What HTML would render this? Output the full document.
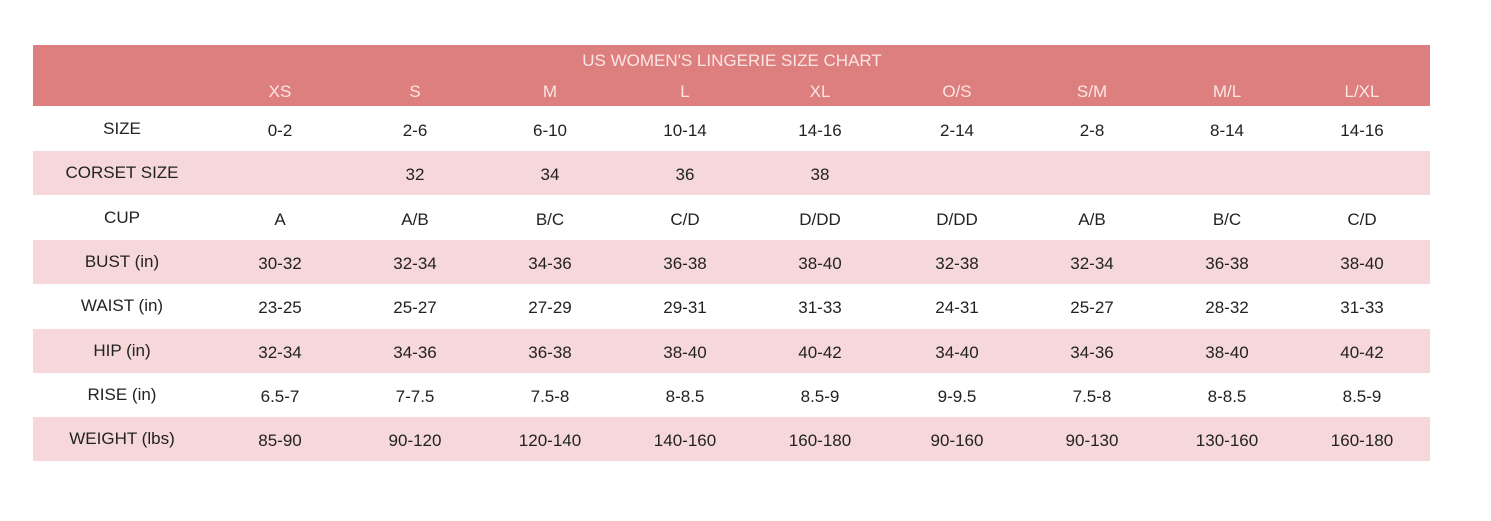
<!DOCTYPE html>
<html><head><meta charset="utf-8"><style>
body{margin:0;width:1491px;height:521px;background:#fff;position:relative;font-family:"Liberation Sans",sans-serif;overflow:hidden}
.hd{position:absolute;left:33px;top:45px;width:1397px;height:61px;background:#dc7f7e}
.row{position:absolute;left:33px;width:1397px;height:44px}
.pk{background:#f6d8db}
.c{position:absolute;transform:translateX(-50%);white-space:nowrap;font-size:17px;color:#222}
.w{color:#fbe6e4}
</style></head><body>
<div class="hd"></div>
<div class="c w" style="left:732px;top:51px;font-size:17px">US WOMEN'S LINGERIE SIZE CHART</div>
<div id="t"></div>
<script>
const cx=[280,415,550,685,820,957,1092,1227,1362];
const hdr=["XS","S","M","L","XL","O/S","S/M","M/L","L/XL"];
const rows=[
["SIZE","0-2","2-6","6-10","10-14","14-16","2-14","2-8","8-14","14-16"],
["CORSET SIZE","","32","34","36","38","","","",""],
["CUP","A","A/B","B/C","C/D","D/DD","D/DD","A/B","B/C","C/D"],
["BUST (in)","30-32","32-34","34-36","36-38","38-40","32-38","32-34","36-38","38-40"],
["WAIST (in)","23-25","25-27","27-29","29-31","31-33","24-31","25-27","28-32","31-33"],
["HIP (in)","32-34","34-36","36-38","38-40","40-42","34-40","34-36","38-40","40-42"],
["RISE (in)","6.5-7","7-7.5","7.5-8","8-8.5","8.5-9","9-9.5","7.5-8","8-8.5","8.5-9"],
["WEIGHT (lbs)","85-90","90-120","120-140","140-160","160-180","90-160","90-130","130-160","160-180"]];
let h="";
hdr.forEach((t,i)=>h+=`<div class="c w" style="left:${cx[i]}px;top:82px">${t}</div>`);
rows.forEach((r,j)=>{const y=106+j*44.3;
 if(j%2)h+=`<div class="row pk" style="top:${y+1}px"></div>`;
 h+=`<div class="c" style="left:122px;top:${y+13}px">${r[0]}</div>`;
 for(let i=1;i<10;i++)h+=`<div class="c" style="left:${cx[i-1]}px;top:${y+15}px">${r[i]}</div>`;});
document.getElementById("t").innerHTML=h;
</script>
</body></html>
